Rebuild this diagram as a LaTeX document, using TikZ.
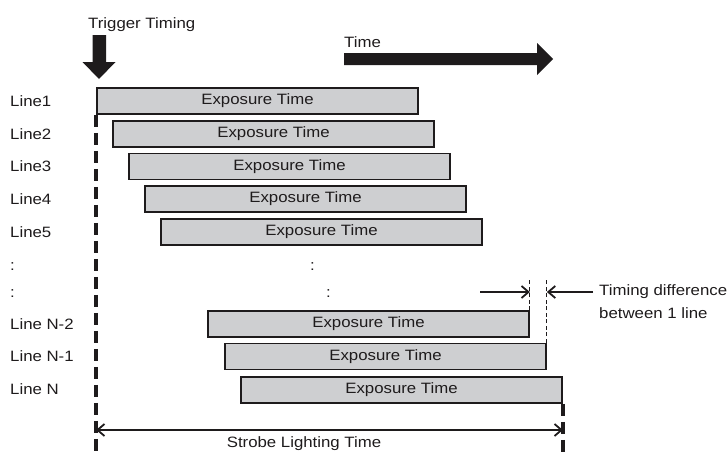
\documentclass[tikz,border=0pt]{standalone}
\usepackage{fontspec}
\setmainfont[FakeStretch=1.12]{Liberation Sans}
\usetikzlibrary{arrows.meta}
\definecolor{ink}{RGB}{30,27,28}
\definecolor{barfill}{RGB}{206,207,209}
\begin{document}
\begin{tikzpicture}[x=1pt,y=-1pt, font=\fontsize{15}{17}\selectfont,
  bar/.style={draw=ink, fill=barfill, line width=1.8pt, minimum width=321pt, minimum height=26pt, inner sep=0pt, text=ink},
  lbl/.style={anchor=base west, inner sep=0pt, text=ink},
  thickdash/.style={draw=ink, line width=4pt, dash pattern=on 12pt off 6pt},
  thindash/.style={draw=ink, line width=1pt, dash pattern=on 4pt off 2.5pt},
  barb/.tip={Straight Barb[length=7pt,width=12pt,line width=1.8pt]},
  dim/.style={draw=ink, line width=1.8pt}]
\useasboundingbox (0,0) rectangle (728,453);

% big arrows
\fill[ink] (92.5,35) -- (106,35) -- (106,62) -- (115.5,62) -- (99,79) -- (82.5,62) -- (92.5,62) -- cycle;
\node[lbl] (trig) at (88,28) {Trigger Timing};
\fill[ink] (344,53) -- (537,53) -- (537,43) -- (553,59) -- (537,75) -- (537,65) -- (344,65) -- cycle;
\node[lbl] (time) at (344,47) {Time};

% bars
\node[bar] (b1) at (257.5,101) {Exposure Time};
\node[bar] (b2) at (273.5,134) {Exposure Time};
\node[bar] (b3) at (289.5,166.5) {Exposure Time};
\node[bar] (b4) at (305.5,199) {Exposure Time};
\node[bar] (b5) at (321.5,232) {Exposure Time};
\node[bar] (bN2) at (368.5,324) {Exposure Time};
\node[bar] (bN1) at (385.5,356.5) {Exposure Time};
\node[bar] (bN) at (401.5,390) {Exposure Time};

% row labels
\node[lbl] (l1) at (10,106) {Line1};
\node[lbl] (l2) at (10,139) {Line2};
\node[lbl] (l3) at (10,171.5) {Line3};
\node[lbl] (l4) at (10,204) {Line4};
\node[lbl] (l5) at (10,237) {Line5};
\node[lbl] (d1) at (10,270) {:};
\node[lbl] (d2) at (10,297) {:};
\node[lbl] (d3) at (310,270) {:};
\node[lbl] (d4) at (326,297) {:};
\node[lbl] (lN2) at (10,329) {Line N-2};
\node[lbl] (lN1) at (10,361.5) {Line N-1};
\node[lbl] (lN) at (10,394) {Line N};

% thick dashed verticals
\coordinate (bot) at (0,453);
\draw[thickdash] (b1.south west) -- (b1.south west |- bot);
\draw[thickdash] (bN.south east) -- (bN.south east |- bot);

% strobe lighting time
\coordinate (sy) at (0,430);
\draw[dim, barb-barb] (b1.south west |- sy) -- (bN.south east |- sy);
\node[anchor=base, inner sep=0pt, text=ink] (strobe) at (304,447) {Strobe Lighting Time};

% timing difference
\coordinate (dtop) at (0,280);
\coordinate (ty) at (0,292);
\draw[thindash] (bN2.north east) -- (bN2.north east |- dtop);
\draw[thindash] (bN1.north east) -- (bN1.north east |- dtop);
\coordinate (ta) at (480,292);
\coordinate (tb) at (593,292);
\draw[dim, -barb] (ta) -- (bN2.east |- ty);
\draw[dim, -barb] (tb) -- (bN1.east |- ty);
\node[lbl] (td1) at (599,295) {Timing difference};
\node[lbl] (td2) at (599,318) {between 1 line};
\end{tikzpicture}
\end{document}
